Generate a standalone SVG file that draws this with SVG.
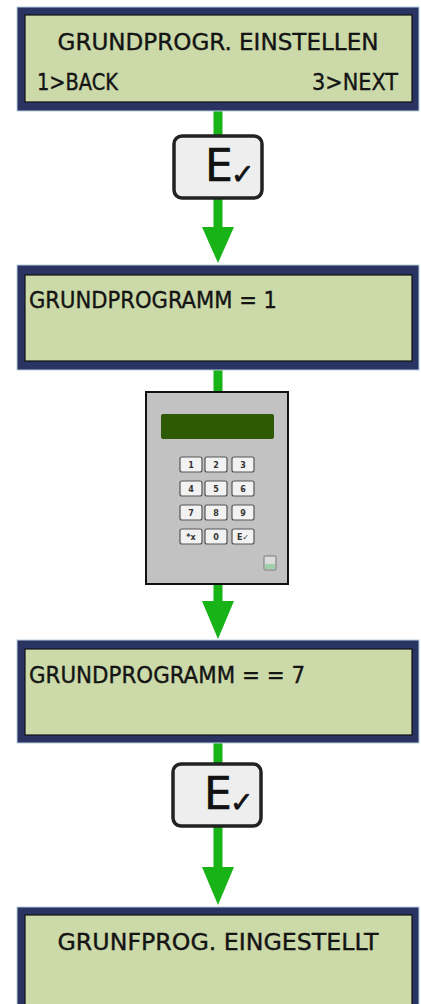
<svg xmlns="http://www.w3.org/2000/svg" width="421" height="1004" viewBox="0 0 421 1004">
  <style>
    .frame { fill: #2a3462; stroke: #b9cde0; stroke-width: 1; }
    .lcd { fill: #cbdaa8; stroke: #111; stroke-width: 1.2; }
    .txt { font-family: "DejaVu Sans Condensed", "DejaVu Sans", sans-serif; font-size: 23px; fill: #141414; stroke: #141414; stroke-width: 0.35; }
    .wire { stroke: #17b317; stroke-width: 9; fill: none; }
    .head { fill: #17b317; }
    .btn { fill: #eeeeee; stroke: #222; stroke-width: 3.5; }
    .btnE { font-family: "DejaVu Sans", sans-serif; font-size: 44px; fill: #111; stroke: #111; stroke-width: 0.6; }
    .tick { font-family: "DejaVu Sans", sans-serif; font-size: 28px; fill: #111; stroke: #111; stroke-width: 0.8; }
    .key { fill: #f2f2f2; stroke: #555; stroke-width: 1.2; }
    .keyt { font-family: "DejaVu Sans", sans-serif; font-size: 8px; font-weight: bold; fill: #333; text-anchor: middle; }
  </style>

  <!-- connectors -->
  <g id="connectors">
    <line class="wire" x1="218" y1="111" x2="218" y2="230"/>
    <polygon class="head" points="202,227 234,227 218,263"/>
    <line class="wire" x1="218" y1="370" x2="218" y2="604"/>
    <polygon class="head" points="202,601 234,601 218,639"/>
    <line class="wire" x1="218" y1="743" x2="218" y2="870"/>
    <polygon class="head" points="202,867 234,867 218,905"/>
  </g>

  <!-- display 1 -->
  <g id="screen-einstellen">
    <rect class="frame" x="17" y="7" width="402" height="104"/>
    <rect class="lcd" x="25" y="15" width="387" height="87"/>
    <text class="txt" x="218" y="50" text-anchor="middle" textLength="321" lengthAdjust="spacingAndGlyphs">GRUNDPROGR. EINSTELLEN</text>
    <text class="txt" x="37" y="90" textLength="81" lengthAdjust="spacingAndGlyphs">1&gt;BACK</text>
    <text class="txt" x="398" y="90" text-anchor="end" textLength="86" lengthAdjust="spacingAndGlyphs">3&gt;NEXT</text>
  </g>

  <!-- enter key 1 -->
  <g id="enter-key-1">
    <rect class="btn" x="174" y="136" width="88" height="62" rx="8"/>
    <text class="btnE" x="205" y="181">E</text>
    <text class="tick" x="231" y="184">✓</text>
  </g>

  <!-- display 2 -->
  <g id="screen-wert-1">
    <rect class="frame" x="17" y="265" width="402" height="105"/>
    <rect class="lcd" x="25" y="275" width="387" height="86"/>
    <text class="txt" x="29" y="308" textLength="248" lengthAdjust="spacingAndGlyphs">GRUNDPROGRAMM = 1</text>
  </g>

  <!-- keypad terminal -->
  <g id="keypad">
    <rect x="146" y="392" width="142" height="192" fill="#c2c2c2" stroke="#111" stroke-width="2"/>
    <rect x="161" y="414" width="113" height="25" rx="2" fill="#2f5a05"/>
    <g>
      <rect class="key" x="180" y="457" width="22" height="15" rx="2"/>
      <rect class="key" x="205" y="457" width="22" height="15" rx="2"/>
      <rect class="key" x="232" y="457" width="22" height="15" rx="2"/>
      <rect class="key" x="180" y="481" width="22" height="15" rx="2"/>
      <rect class="key" x="205" y="481" width="22" height="15" rx="2"/>
      <rect class="key" x="232" y="481" width="22" height="15" rx="2"/>
      <rect class="key" x="180" y="505" width="22" height="15" rx="2"/>
      <rect class="key" x="205" y="505" width="22" height="15" rx="2"/>
      <rect class="key" x="232" y="505" width="22" height="15" rx="2"/>
      <rect class="key" x="180" y="529" width="22" height="15" rx="2"/>
      <rect class="key" x="205" y="529" width="22" height="15" rx="2"/>
      <rect class="key" x="232" y="529" width="22" height="15" rx="2"/>
      <text class="keyt" x="191" y="468">1</text>
      <text class="keyt" x="216" y="468">2</text>
      <text class="keyt" x="243" y="468">3</text>
      <text class="keyt" x="191" y="492">4</text>
      <text class="keyt" x="216" y="492">5</text>
      <text class="keyt" x="243" y="492">6</text>
      <text class="keyt" x="191" y="516">7</text>
      <text class="keyt" x="216" y="516">8</text>
      <text class="keyt" x="243" y="516">9</text>
      <text class="keyt" x="191" y="540">*x</text>
      <text class="keyt" x="216" y="540">0</text>
      <text class="keyt" x="243" y="540">E✓</text>
    </g>
    <rect x="264" y="556" width="12" height="14" rx="1" fill="#dcdcdc" stroke="#777" stroke-width="1"/>
    <rect x="265" y="564" width="10" height="5" fill="#9fd0a8"/>
  </g>

  <!-- display 3 -->
  <g id="screen-wert-7">
    <rect class="frame" x="17" y="640" width="402" height="103"/>
    <rect class="lcd" x="25" y="649" width="387" height="86"/>
    <text class="txt" x="29" y="683" textLength="276" lengthAdjust="spacingAndGlyphs">GRUNDPROGRAMM = = 7</text>
  </g>

  <!-- enter key 2 -->
  <g id="enter-key-2">
    <rect class="btn" x="173" y="764" width="88" height="62" rx="8"/>
    <text class="btnE" x="204" y="809">E</text>
    <text class="tick" x="230" y="812">✓</text>
  </g>

  <!-- display 4 -->
  <g id="screen-eingestellt">
    <rect class="frame" x="17" y="907" width="402" height="104"/>
    <rect class="lcd" x="25" y="915" width="387" height="100"/>
    <text class="txt" x="218" y="950" text-anchor="middle" textLength="321" lengthAdjust="spacingAndGlyphs">GRUNFPROG. EINGESTELLT</text>
  </g>
</svg>
